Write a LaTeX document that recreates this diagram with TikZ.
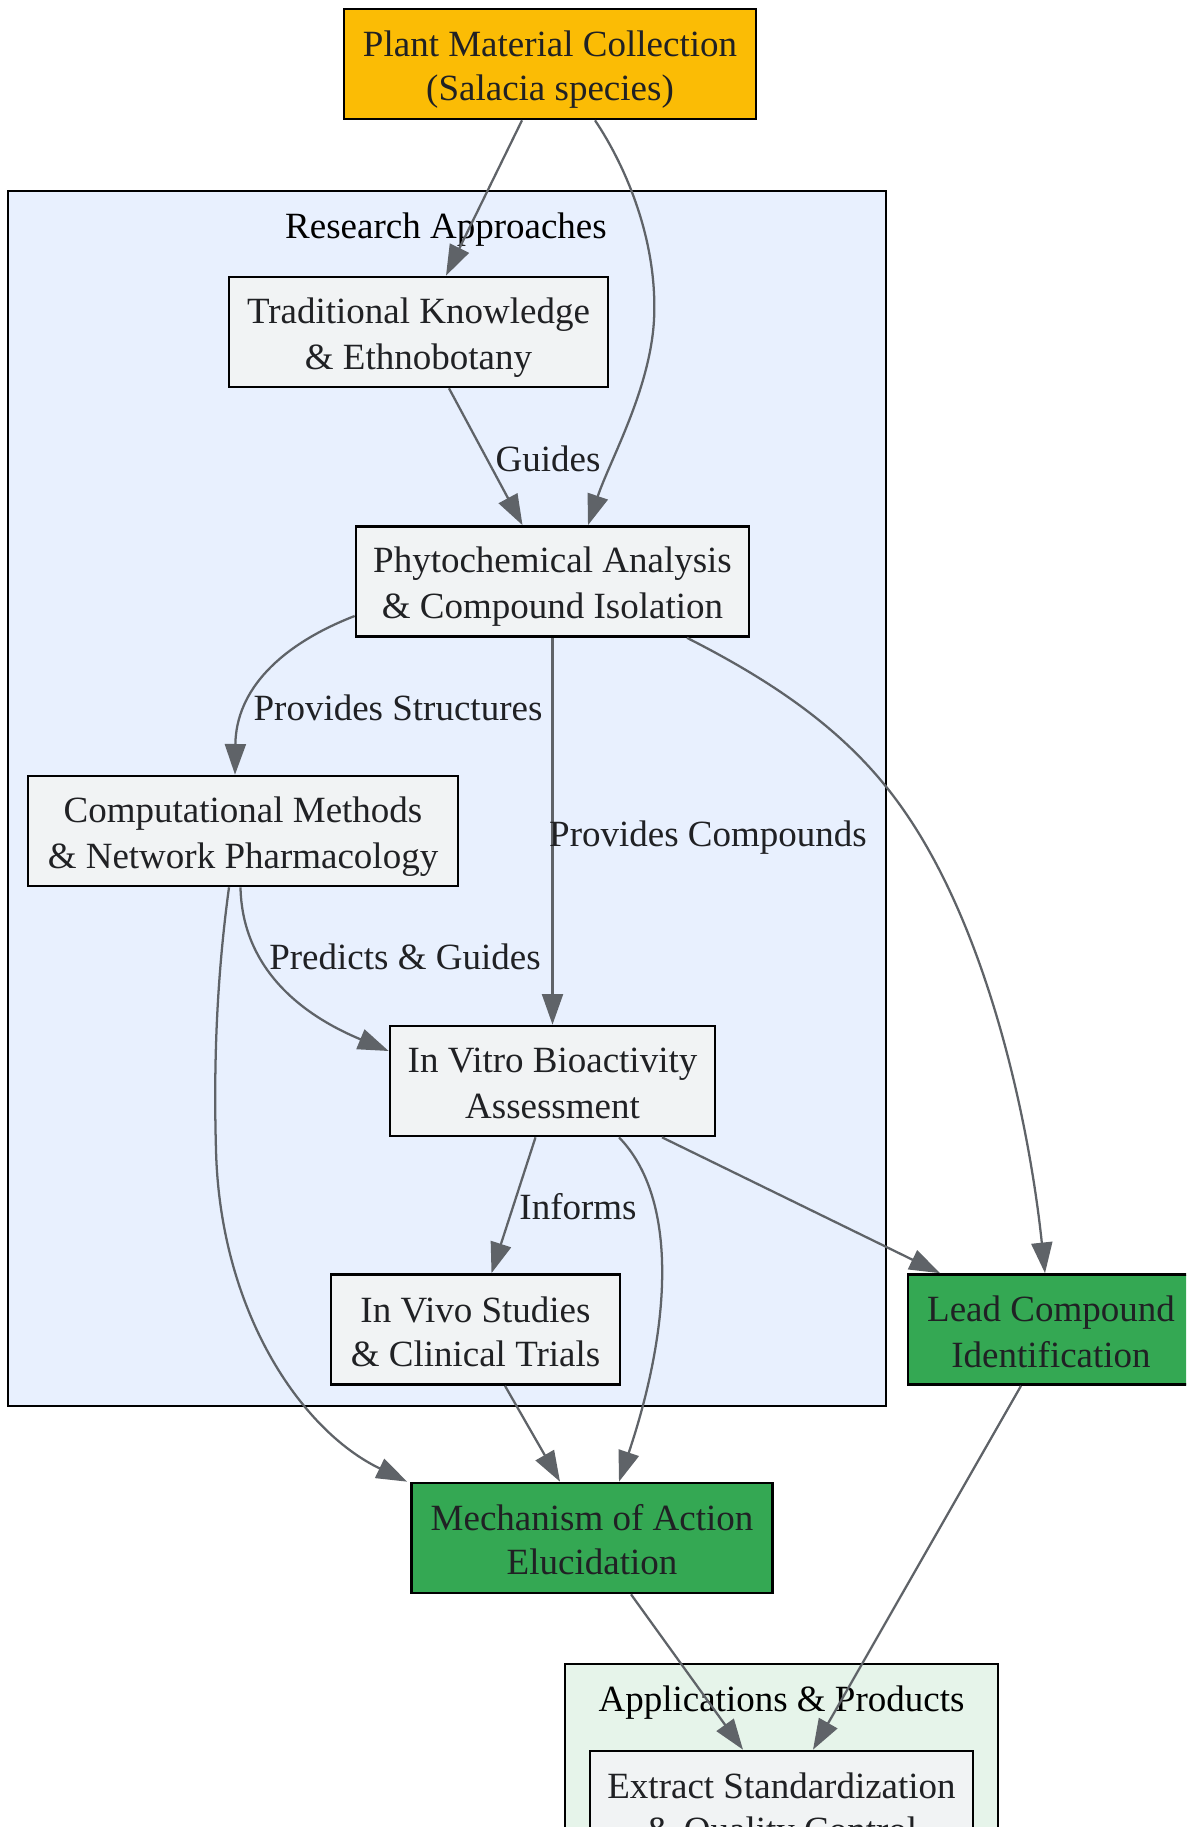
\documentclass[tikz,border=0pt]{standalone}
\usepackage{fontspec}
\setmainfont{Liberation Serif}
\usetikzlibrary{arrows.meta,calc}
\definecolor{edgec}{HTML}{5F6368}
\definecolor{txt}{HTML}{202124}
\definecolor{nodegray}{HTML}{F1F3F4}
\definecolor{plantc}{HTML}{FBBC05}
\definecolor{greenc}{HTML}{34A853}
\definecolor{clblue}{HTML}{E8F0FE}
\definecolor{clgreen}{HTML}{E6F4EA}
\newcommand{\st}{\rule[-5.25pt]{0pt}{32.75pt}}
\begin{document}
\begin{tikzpicture}[x=0.75pt,y=-0.75pt,
  box/.style={draw=black, line width=2pt, fill=nodegray, text=txt,
    font=\fontsize{27.75pt}{33pt}\selectfont, align=center,
    minimum height=82.5pt, inner sep=0pt},
  edge/.style={draw=edgec, line width=1.7pt,
    -{Triangle[length=23pt,width=15.75pt]}},
  elabel/.style={anchor=base, text=txt, inner sep=0pt,
    font=\fontsize{27.75pt}{33pt}\selectfont},
  clabel/.style={anchor=base, text=black, inner sep=0pt,
    font=\fontsize{27.75pt}{33pt}\selectfont},
  cluster/.style={draw=black, line width=2pt}]
\clip (0,0) rectangle (1186,1827);
% clusters
\draw[cluster, fill=clblue] (8,191) rectangle (886,1406);
\draw[cluster, fill=clgreen] (565,1664) rectangle (998,1900);
\node[clabel] (lres) at (446,238) {Research Approaches};
\node[clabel] (lapp) at (781.5,1711) {Applications \& Products};
% nodes
\node[box, fill=plantc, minimum width=309pt] (plant) at (550,64)
  {\st Plant Material Collection\\\st(Salacia species)};
\node[box, minimum width=284.25pt] (trad) at (418.5,332)
  {\st Traditional Knowledge\\\st\& Ethnobotany};
\node[box, minimum width=294.75pt] (phyto) at (552.5,581.5)
  {\st Phytochemical Analysis\\\st\& Compound Isolation};
\node[box, minimum width=322.5pt] (comp) at (243,831)
  {\st Computational Methods\\\st\& Network Pharmacology};
\node[box, minimum width=243.75pt] (vitro) at (552.5,1081)
  {\st In Vitro Bioactivity\\\st Assessment};
\node[box, minimum width=216.75pt] (vivo) at (475.5,1329.5)
  {\st In Vivo Studies\\\st\& Clinical Trials};
\node[box, fill=greenc, minimum width=214.5pt] (lead) at (1051,1329.5)
  {\st Lead Compound\\\st Identification};
\node[box, fill=greenc, minimum width=270.75pt] (mech) at (592,1538)
  {\st Mechanism of Action\\\st Elucidation};
\node[box, minimum width=287.25pt] (extract) at (781.5,1806)
  {\st Extract Standardization\\\st\& Quality Control};
% edges
\draw[edge] ($(plant.south)+(-28,0)$) -- ($(trad.north)+(27.5,0)$);
\draw[edge] ($(plant.south)+(45,0)$) .. controls (625,165) and (658,240) .. (654,320)
  .. controls (650,390) and (610,460) .. ($(phyto.north)+(35.5,0)$);
\draw[edge] ($(trad.south)+(30.5,0)$) -- ($(phyto.north)+(-30,0)$);
\draw[edge] ($(phyto.west)+(0,34.5)$) .. controls (280,645) and (236,690) .. ($(comp.north)+(-8,0)$);
\draw[edge] (phyto.south) -- (vitro.north);
\draw[edge] ($(phyto.south)+(134.5,0)$) .. controls (780,685) and (850,735) .. (900,805)
  .. controls (990,930) and (1030,1130) .. ($(lead.north)+(-6,0)$);
\draw[edge] ($(comp.south)+(-2.5,0)$) .. controls (242,960) and (290,1010) .. ($(vitro.west)+(0,-30)$);
\draw[edge] ($(comp.south)+(-14,0)$) .. controls (215,990) and (214,1080) .. (216,1150)
  .. controls (220,1310) and (300,1430) .. ($(mech.north west)+(-3,0)$);
\draw[edge] ($(vitro.south)+(-17,0)$) -- ($(vivo.north)+(16,0)$);
\draw[edge] ($(vitro.south)+(66.5,0)$) .. controls (680,1200) and (670,1330) .. ($(mech.north)+(27,0)$);
\draw[edge] ($(vitro.south)+(109.5,0)$) -- ($(lead.north)+(-111,0)$);
\draw[edge] ($(vivo.south)+(29.5,0)$) -- ($(mech.north)+(-32,0)$);
\draw[edge] ($(lead.south)+(-30,0)$) -- ($(extract.north)+(31.5,0)$);
\draw[edge] ($(mech.south)+(39,0)$) -- ($(extract.north)+(-38.5,0)$);
% edge labels
\node[elabel] (g1) at (548,471) {Guides};
\node[elabel] (g2) at (398,720) {Provides Structures};
\node[elabel] (g3) at (708,846) {Provides Compounds};
\node[elabel] (g4) at (405,969) {Predicts \& Guides};
\node[elabel] (g5) at (578,1219) {Informs};
\end{tikzpicture}
\end{document}
